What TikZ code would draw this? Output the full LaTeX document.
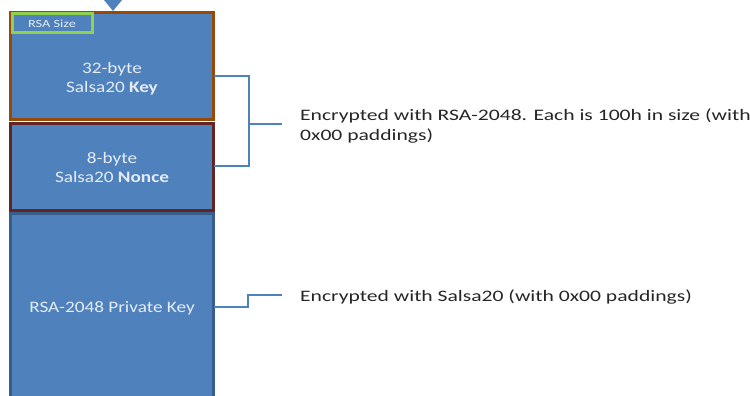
\documentclass[tikz,border=0pt]{standalone}
\usepackage{graphicx}
\usepackage{fontspec}
\setmainfont{Carlito}
\definecolor{boxblue}{HTML}{4F81BD}
\definecolor{keyedge}{HTML}{984807}
\definecolor{nonceedge}{HTML}{632523}
\definecolor{privedge}{HTML}{385D8A}
\definecolor{sizeedge}{HTML}{92D050}
\definecolor{linkblue}{HTML}{4F81BD}
\definecolor{boxtext}{HTML}{E6ECF4}
\newcommand\widec[2]{\scalebox{#1}[1]{\begin{tabular}{@{}c@{}}#2\end{tabular}}}
\newcommand\widel[2]{\scalebox{#1}[1]{\begin{tabular}{@{}l@{}}#2\end{tabular}}}
\begin{document}
\begin{tikzpicture}[x=1pt,y=-1pt,
  blk/.style={draw, fill=boxblue, line width=3pt, minimum width=203pt, inner sep=0pt, outer sep=0pt},
  blktext/.style={text=boxtext, font=\fontsize{16}{19}\selectfont, inner sep=0pt},
  link/.style={draw=linkblue, line width=1.2pt},
  note/.style={font=\fontsize{16}{20}\selectfont, anchor=west, inner sep=0pt, text=black!85}]
\useasboundingbox (0,0) rectangle (750,396);
% blocks
\node[blk, draw=privedge, minimum height=200pt, anchor=north west] (priv) at (10.5,213) {};
\node[blk, draw=keyedge, minimum height=107pt, anchor=north west] (key) at (10.5,12.5) {};
\node[blk, draw=nonceedge, minimum height=87pt, anchor=north west] (nonce) at (10.5,123.5) {};
\node[blktext] (keyt) at (112,79) {\widec{1.2}{32-byte\\Salsa20 \textbf{Key}}};
\node[blktext] (noncet) at (112,169) {\widec{1.2}{8-byte\\Salsa20 \textbf{Nonce}}};
\node[blktext] (privt) at (112,309) {\widec{1.2}{RSA-2048 Private Key}};
% RSA size tag
\node[draw=sizeedge, fill=boxblue, line width=3pt, minimum width=80pt, minimum height=19pt, anchor=north west, inner sep=0pt, text=boxtext, font=\fontsize{11}{12}\selectfont] (size) at (10.5,12.5) {\scalebox{1.3}[1]{RSA Size}};
% triangle
\fill[boxblue] (104,0) -- (122,0) -- (113,11) -- cycle;
% bracket
\coordinate (bt) at (249,76);
\coordinate (bb) at (249,166);
\coordinate (bm) at (249,124);
\coordinate (be) at (282,124);
\draw[link] (key.east |- bt) -- (bt) -- (bb) -- (nonce.east |- bb);
\draw[link] (bm) -- (be);
\node[note] (n1) at (300,126) {\widel{1.35}{Encrypted with RSA-2048. Each is 100h in size (with\\0x00 paddings)}};
% lower connector
\coordinate (p1) at (248,307);
\coordinate (p2) at (248,295);
\coordinate (p3) at (282,295);
\draw[link] (priv.east |- p1) -- (p1) -- (p2) -- (p3);
\node[note] (n2) at (300,297) {\widel{1.35}{Encrypted with Salsa20 (with 0x00 paddings)}};
\end{tikzpicture}
\end{document}
